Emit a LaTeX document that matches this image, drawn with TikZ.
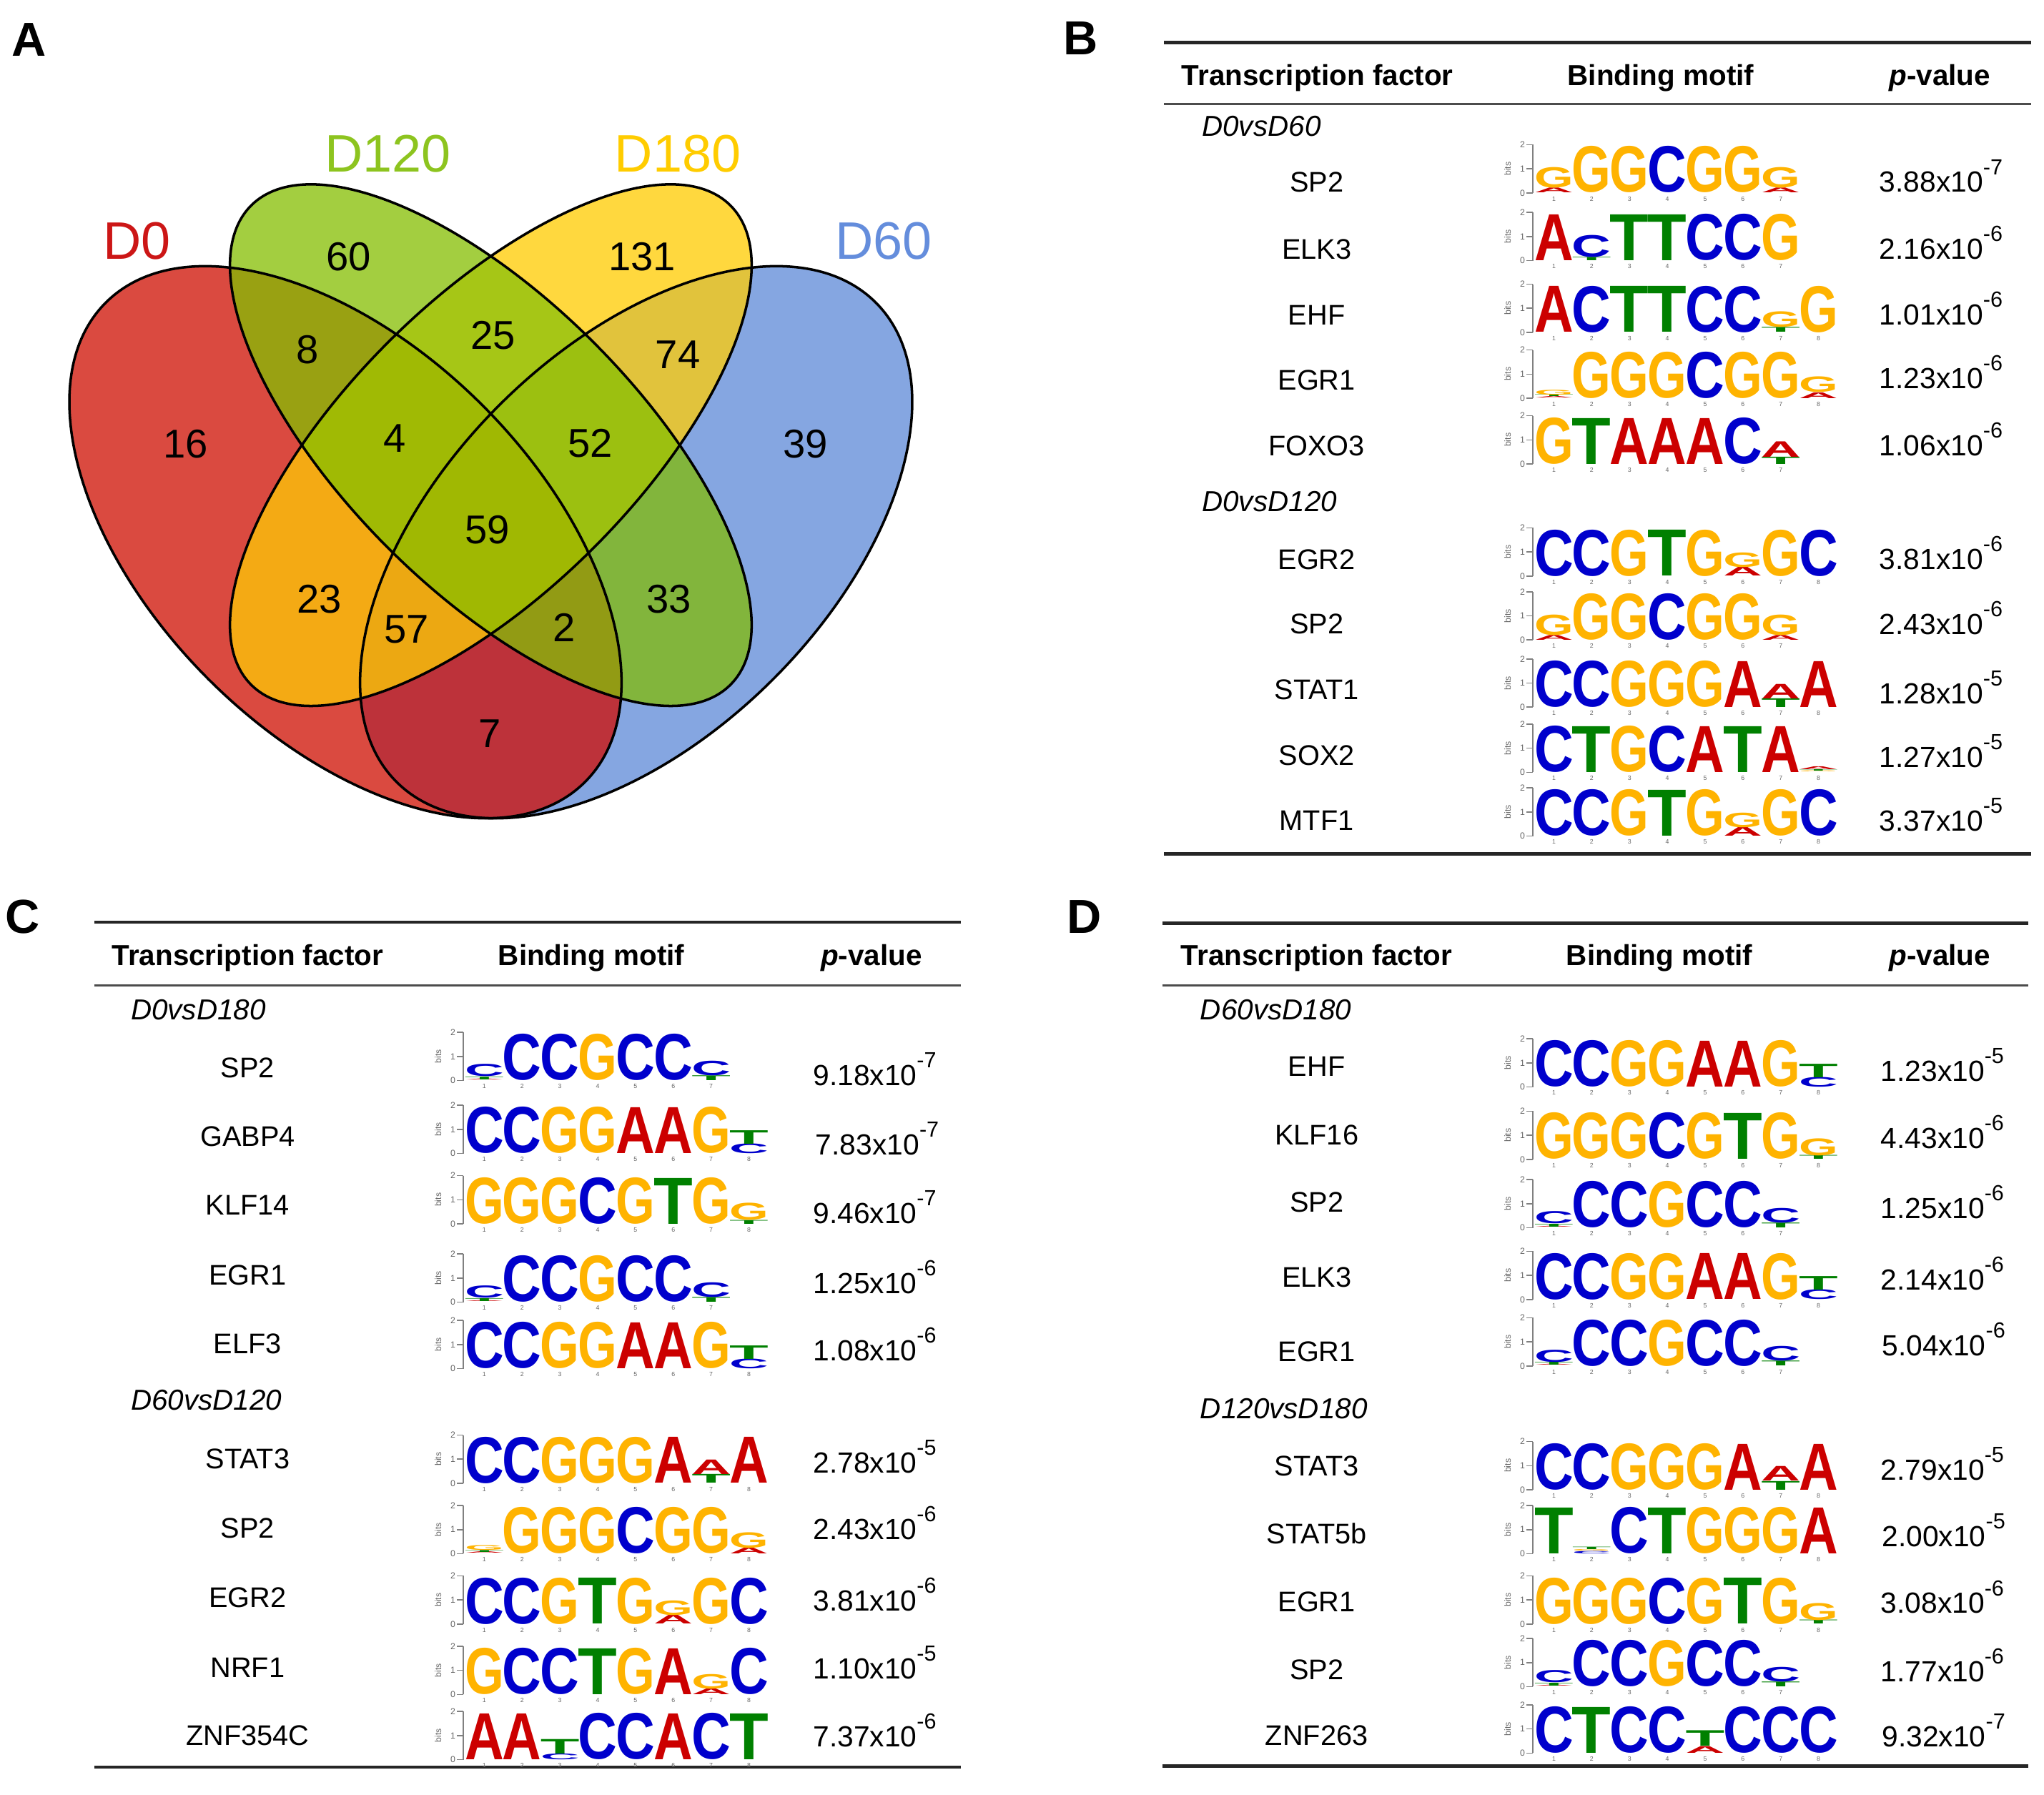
\documentclass[tikz,border=0pt]{standalone}
\usepackage{fontspec}
\setmainfont{Liberation Sans}
\usepackage{graphicx}
% logo letter colours
\definecolor{cA}{HTML}{CC0000}
\definecolor{cC}{HTML}{0000CC}
\definecolor{cG}{HTML}{FFB300}
\definecolor{cT}{HTML}{008000}
% venn region colours
\definecolor{vR}{RGB}{218,74,64}
\definecolor{vG}{RGB}{163,206,64}
\definecolor{vY}{RGB}{255,216,62}
\definecolor{vB}{RGB}{133,166,225}
\definecolor{vRG}{RGB}{153,161,18}
\definecolor{vGY}{RGB}{166,198,22}
\definecolor{vYB}{RGB}{225,195,60}
\definecolor{vRY}{RGB}{244,170,20}
\definecolor{vGB}{RGB}{130,181,60}
\definecolor{vRB}{RGB}{189,50,58}
\definecolor{vRGY}{RGB}{160,186,4}
\definecolor{vGYB}{RGB}{156,192,16}
\definecolor{vRYB}{RGB}{236,168,18}
\definecolor{vRGB}{RGB}{146,155,20}
\definecolor{vALL}{RGB}{160,184,2}
% set label colours
\definecolor{tR}{RGB}{204,22,22}
\definecolor{tG}{RGB}{141,196,31}
\definecolor{tY}{RGB}{255,204,0}
\definecolor{tB}{RGB}{100,141,220}

\newdimen\LW \LW=0.547cm
\newdimen\LH \LH=0.675cm
\newcounter{nn}

\newcommand\lgT[4]{\stepcounter{nn}\node[lt, name=lt\arabic{nn}] at ({29*#1+14.5},{-37*(#2)}) {\resizebox{\LW}{#3\LH}{\color{c#4}\bfseries #4}};}
\newcommand\lgF[2]{\lgT{#1}{0}{0.95}{#2}}
\newcommand\lgS[5]{\lgT{#1}{0}{#3}{#2}\lgT{#1}{#3}{#5}{#4}}
\newcommand\lgR[7]{\lgT{#1}{0}{#3}{#2}\lgT{#1}{#3}{#5}{#4}\lgT{#1}{#3+#5}{#7}{#6}}

\newcommand\motif[4]{\begin{scope}[shift={(#1,#2)}]
 \draw[axisl] (-1.5,0) -- (-1.5,-37);
 \foreach \t in {0,1,2}{\draw[axisl] (-1.5,{-18.5*\t}) -- (-6.5,{-18.5*\t});
   \stepcounter{nn}\node[tickl, anchor=east, name=tk\arabic{nn}] at (-6.5,{-18.5*\t}) {\t};}
 \stepcounter{nn}\node[tickl, rotate=90, name=bt\arabic{nn}] at (-21,-18.5) {bits};
 \foreach \k in {1,...,#3}{\stepcounter{nn}\node[posl, name=ps\arabic{nn}] at ({29*\k-14.5},4.5) {\k};}
 #4
\end{scope}}

\newcommand\MspA{\lgS{0}{A}{0.10}{G}{0.42}\lgF{1}{G}\lgF{2}{G}\lgF{3}{C}\lgF{4}{G}\lgF{5}{G}\lgS{6}{A}{0.10}{G}{0.42}}
\newcommand\MegrA{\lgR{0}{A}{0.03}{T}{0.04}{G}{0.10}\lgF{1}{G}\lgF{2}{G}\lgF{3}{G}\lgF{4}{C}\lgF{5}{G}\lgF{6}{G}\lgS{7}{A}{0.12}{G}{0.32}}
\newcommand\Megr{\lgF{0}{C}\lgF{1}{C}\lgF{2}{G}\lgF{3}{T}\lgF{4}{G}\lgS{5}{A}{0.18}{G}{0.30}\lgF{6}{G}\lgF{7}{C}}
\newcommand\Mstat{\lgF{0}{C}\lgF{1}{C}\lgF{2}{G}\lgF{3}{G}\lgF{4}{G}\lgF{5}{A}\lgS{6}{T}{0.18}{A}{0.30}\lgF{7}{A}}
\newcommand\Mccg{\lgR{0}{A}{0.02}{T}{0.06}{C}{0.25}\lgF{1}{C}\lgF{2}{C}\lgF{3}{G}\lgF{4}{C}\lgF{5}{C}\lgS{6}{T}{0.10}{C}{0.30}}
\newcommand\Mets{\lgF{0}{C}\lgF{1}{C}\lgF{2}{G}\lgF{3}{G}\lgF{4}{A}\lgF{5}{A}\lgF{6}{G}\lgS{7}{C}{0.20}{T}{0.28}}
\newcommand\Mklf{\lgF{0}{G}\lgF{1}{G}\lgF{2}{G}\lgF{3}{C}\lgF{4}{G}\lgF{5}{T}\lgF{6}{G}\lgS{7}{T}{0.08}{G}{0.35}}

\newcommand\pvalue[2]{#1x10\raisebox{7.1pt}{\fontsize{8.7}{9}\selectfont -#2}}

% venn ellipses as pgf paths (rotated axes given as vectors)
\newcommand\epath[1]{\ifcase#1\or
 \pgfpathellipse{\pgfpointxy{265}{416}}{\pgfpoint{3.3522cm}{-3.3522cm}}{\pgfpoint{1.9160cm}{1.9160cm}}\or
 \pgfpathellipse{\pgfpointxy{376.5}{341.5}}{\pgfpoint{3.3522cm}{-3.3522cm}}{\pgfpoint{1.4376cm}{1.4376cm}}\or
 \pgfpathellipse{\pgfpointxy{376.5}{341.5}}{\pgfpoint{3.3522cm}{3.3522cm}}{\pgfpoint{-1.4376cm}{1.4376cm}}\or
 \pgfpathellipse{\pgfpointxy{488}{416}}{\pgfpoint{3.3522cm}{3.3522cm}}{\pgfpoint{-1.9160cm}{1.9160cm}}\fi}
\newcommand\inout[2]{\ifnum#1=1 \epath{#2}\pgfusepath{clip}\else
 \pgfpathrectanglecorners{\pgfpointxy{-1000}{-1000}}{\pgfpointxy{2000}{2000}}\epath{#2}\pgfseteorule\pgfusepath{clip}\pgfsetnonzerorule\fi}
\newcommand\vreg[5]{\begin{scope}\inout{#1}{1}\inout{#2}{2}\inout{#3}{3}\inout{#4}{4}\fill[#5] (0,0) rectangle (760,700);\end{scope}}

\tikzset{
 panel/.style={font=\fontsize{19}{22}\selectfont\bfseries, anchor=base, yshift=-6.8pt, inner sep=0pt},
 setlab/.style={font=\fontsize{21}{25}\selectfont, anchor=base, yshift=-7.5pt, inner sep=0pt},
 cnt/.style={font=\fontsize{16}{19}\selectfont, anchor=base, yshift=-5.73pt, inner sep=0pt},
 hdr/.style={font=\fontsize{11.5}{14}\selectfont\bfseries, anchor=base, yshift=-4.1pt, inner sep=0pt},
 tf/.style={font=\fontsize{11.3}{14}\selectfont, anchor=base, yshift=-4.05pt, inner sep=0pt},
 grp/.style={font=\fontsize{11.5}{14}\selectfont\itshape, anchor=base west, yshift=-4.1pt, inner sep=0pt},
 pv/.style={font=\fontsize{11.6}{14}\selectfont, anchor=base, yshift=-4.15pt, inner sep=0pt},
 rulethick/.style={line width=1.3pt, black!85},
 rulethin/.style={line width=0.9pt, black!70},
 vline/.style={line width=1pt, black},
 axisl/.style={line width=0.45pt, black!50},
 tickl/.style={font=\fontsize{3.5}{4}\selectfont, text=black!60, inner sep=0.4pt},
 posl/.style={font=\fontsize{2.5}{3}\selectfont, text=black!60, inner sep=0pt},
 lt/.style={anchor=south, inner sep=0pt, outer sep=0pt},
}

\begin{document}
\begin{tikzpicture}[x=0.018234cm, y=-0.018234cm]
\useasboundingbox (0,0) rectangle (1568,1377);

% ================= Panel A: Venn =================
\node[panel] (lA) at (22,30) {A};
\vreg{1}{0}{0}{0}{vR}
\vreg{0}{1}{0}{0}{vG}
\vreg{0}{0}{1}{0}{vY}
\vreg{0}{0}{0}{1}{vB}
\vreg{1}{1}{0}{0}{vRG}
\vreg{0}{1}{1}{0}{vGY}
\vreg{0}{0}{1}{1}{vYB}
\vreg{1}{0}{1}{0}{vRY}
\vreg{0}{1}{0}{1}{vGB}
\vreg{1}{0}{0}{1}{vRB}
\vreg{1}{1}{1}{0}{vRGY}
\vreg{0}{1}{1}{1}{vGYB}
\vreg{1}{0}{1}{1}{vRYB}
\vreg{1}{1}{0}{1}{vRGB}
\vreg{1}{1}{1}{1}{vALL}
\draw[vline, rotate around={-45:(265,416)}] (265,416) ellipse [x radius=4.7408cm, y radius=2.7096cm];
\draw[vline, rotate around={-45:(376.5,341.5)}] (376.5,341.5) ellipse [x radius=4.7408cm, y radius=2.0331cm];
\draw[vline, rotate around={45:(376.5,341.5)}] (376.5,341.5) ellipse [x radius=4.7408cm, y radius=2.0331cm];
\draw[vline, rotate around={45:(488,416)}] (488,416) ellipse [x radius=4.7408cm, y radius=2.7096cm];

\node[setlab, text=tR] (sD0) at (105,184.6) {D0};
\node[setlab, text=tG] (sD120) at (297.6,117.5) {D120};
\node[setlab, text=tY] (sD180) at (520,117.5) {D180};
\node[setlab, text=tB] (sD60) at (677.7,184.6) {D60};

\node[cnt] (n16) at (142.5,340) {16};
\node[cnt] (n60) at (267.6,196.4) {60};
\node[cnt] (n131) at (492.6,196.4) {131};
\node[cnt] (n39) at (617.7,340) {39};
\node[cnt] (n8) at (235.8,268) {8};
\node[cnt] (n25) at (378.4,256.7) {25};
\node[cnt] (n74) at (520,271.5) {74};
\node[cnt] (n4) at (302.7,336) {4};
\node[cnt] (n52) at (453,339.5) {52};
\node[cnt] (n59) at (374,406) {59};
\node[cnt] (n23) at (245,459) {23};
\node[cnt] (n33) at (513,459) {33};
\node[cnt] (n57) at (312,482) {57};
\node[cnt] (n2) at (433,481) {2};
\node[cnt] (n7) at (376,562.3) {7};

% ================= Panel B =================
\node[panel] (lB) at (829,29) {B};
\draw[rulethick] (893,32.6) coordinate (bT1) -- (1558,32.6) coordinate (bT2);
\draw[rulethin] (893,79.6) coordinate (bM1) -- (1558,79.6) coordinate (bM2);
\draw[rulethick] (893,655) coordinate (bB1) -- (1558,655) coordinate (bB2);
\node[hdr] (bh1) at (1010.6,57.5) {Transcription factor};
\node[hdr] (bh2) at (1274,57.5) {Binding motif};
\node[hdr] (bh3) at (1488,57.5) {\textit{p}-value};
\node[grp] (bg1) at (921.7,96.7) {D0vsD60};
\node[grp] (bg2) at (921.7,384.3) {D0vsD120};

\node[tf] (bn1) at (1010,139.6) {SP2};
\node[tf] (bn2) at (1010,190.9) {ELK3};
\node[tf] (bn3) at (1010,241.2) {EHF};
\node[tf] (bn4) at (1010,291.3) {EGR1};
\node[tf] (bn5) at (1010,341.6) {FOXO3};
\node[tf] (bn6) at (1010,428.8) {EGR2};
\node[tf] (bn7) at (1010,478.6) {SP2};
\node[tf] (bn8) at (1010,528.6) {STAT1};
\node[tf] (bn9) at (1010,579.5) {SOX2};
\node[tf] (bn10) at (1010,629.4) {MTF1};

\node[pv] (bp1) at (1489,139.5) {\pvalue{3.88}{7}};
\node[pv] (bp2) at (1489,191) {\pvalue{2.16}{6}};
\node[pv] (bp3) at (1489,241) {\pvalue{1.01}{6}};
\node[pv] (bp4) at (1489,290) {\pvalue{1.23}{6}};
\node[pv] (bp5) at (1489,341.5) {\pvalue{1.06}{6}};
\node[pv] (bp6) at (1489,428.8) {\pvalue{3.81}{6}};
\node[pv] (bp7) at (1489,478.6) {\pvalue{2.43}{6}};
\node[pv] (bp8) at (1489,531.8) {\pvalue{1.28}{5}};
\node[pv] (bp9) at (1489,580.6) {\pvalue{1.27}{5}};
\node[pv] (bp10) at (1489,629.4) {\pvalue{3.37}{5}};

\motif{1177.5}{148}{7}{\MspA}
\motif{1177.5}{200}{7}{\lgF{0}{A}\lgS{1}{T}{0.07}{C}{0.45}\lgF{2}{T}\lgF{3}{T}\lgF{4}{C}\lgF{5}{C}\lgF{6}{G}}
\motif{1177.5}{255}{8}{\lgF{0}{A}\lgF{1}{C}\lgF{2}{T}\lgF{3}{T}\lgF{4}{C}\lgF{5}{C}\lgS{6}{T}{0.10}{G}{0.32}\lgF{7}{G}}
\motif{1177.5}{305.5}{8}{\MegrA}
\motif{1177.5}{356}{7}{\lgF{0}{G}\lgF{1}{T}\lgF{2}{A}\lgF{3}{A}\lgF{4}{A}\lgF{5}{C}\lgS{6}{T}{0.15}{A}{0.32}}
\motif{1177.5}{442}{8}{\Megr}
\motif{1177.5}{491}{7}{\MspA}
\motif{1177.5}{542.5}{8}{\Mstat}
\motif{1177.5}{592.5}{8}{\lgF{0}{C}\lgF{1}{T}\lgF{2}{G}\lgF{3}{C}\lgF{4}{A}\lgF{5}{T}\lgF{6}{A}\lgR{7}{G}{0.02}{T}{0.03}{A}{0.06}}
\motif{1177.5}{641.5}{8}{\Megr}

% ================= Panel C =================
\node[panel] (lC) at (17.5,702.6) {C};
\draw[rulethick] (72.5,707.5) coordinate (cT1) -- (737,707.5) coordinate (cT2);
\draw[rulethin] (72.5,755.8) coordinate (cM1) -- (737,755.8) coordinate (cM2);
\draw[rulethick] (72.5,1355.7) coordinate (cB1) -- (737,1355.7) coordinate (cB2);
\node[hdr] (ch1) at (190,732.6) {Transcription factor};
\node[hdr] (ch2) at (453.6,732.6) {Binding motif};
\node[hdr] (ch3) at (668.5,732.6) {\textit{p}-value};
\node[grp] (cg1) at (100,774.5) {D0vsD180};
\node[grp] (cg2) at (100,1074) {D60vsD120};

\node[tf] (cn1) at (190,819) {SP2};
\node[tf] (cn2) at (190,871.7) {GABP4};
\node[tf] (cn3) at (190,924.3) {KLF14};
\node[tf] (cn4) at (190,978) {EGR1};
\node[tf] (cn5) at (190,1030.8) {ELF3};
\node[tf] (cn6) at (190,1118.8) {STAT3};
\node[tf] (cn7) at (190,1172.2) {SP2};
\node[tf] (cn8) at (190,1225.5) {EGR2};
\node[tf] (cn9) at (190,1278.9) {NRF1};
\node[tf] (cn10) at (190,1331.2) {ZNF354C};

\node[pv] (cp1) at (671,825) {\pvalue{9.18}{7}};
\node[pv] (cp2) at (673,877.8) {\pvalue{7.83}{7}};
\node[pv] (cp3) at (671,930.4) {\pvalue{9.46}{7}};
\node[pv] (cp4) at (671,984.3) {\pvalue{1.25}{6}};
\node[pv] (cp5) at (671,1035.7) {\pvalue{1.08}{6}};
\node[pv] (cp6) at (671,1122) {\pvalue{2.78}{5}};
\node[pv] (cp7) at (671,1173.2) {\pvalue{2.43}{6}};
\node[pv] (cp8) at (671,1227.7) {\pvalue{3.81}{6}};
\node[pv] (cp9) at (671,1280) {\pvalue{1.10}{5}};
\node[pv] (cp10) at (671,1332.2) {\pvalue{7.37}{6}};

\motif{357}{829}{7}{\Mccg}
\motif{357}{885}{8}{\Mets}
\motif{357}{939}{8}{\Mklf}
\motif{357}{999}{7}{\Mccg}
\motif{357}{1050}{8}{\Mets}
\motif{357}{1138}{8}{\Mstat}
\motif{357}{1192}{8}{\MegrA}
\motif{357}{1246}{8}{\Megr}
\motif{357}{1300}{8}{\lgF{0}{G}\lgF{1}{C}\lgF{2}{C}\lgF{3}{T}\lgF{4}{G}\lgF{5}{A}\lgS{6}{A}{0.12}{G}{0.30}\lgF{7}{C}}
\motif{357}{1350}{8}{\lgF{0}{A}\lgF{1}{A}\lgS{2}{C}{0.12}{T}{0.30}\lgF{3}{C}\lgF{4}{C}\lgF{5}{A}\lgF{6}{C}\lgF{7}{T}}

% ================= Panel D =================
\node[panel] (lD) at (831.7,702.6) {D};
\draw[rulethick] (892,708.4) coordinate (dT1) -- (1556,708.4) coordinate (dT2);
\draw[rulethin] (892,755.8) coordinate (dM1) -- (1556,755.8) coordinate (dM2);
\draw[rulethick] (892,1355) coordinate (dB1) -- (1556,1355) coordinate (dB2);
\node[hdr] (dh1) at (1010,733) {Transcription factor};
\node[hdr] (dh2) at (1273,733) {Binding motif};
\node[hdr] (dh3) at (1488,733) {\textit{p}-value};
\node[grp] (dg1) at (920.4,774.5) {D60vsD180};
\node[grp] (dg2) at (920.4,1080.5) {D120vsD180};

\node[tf] (dn1) at (1010,817.8) {EHF};
\node[tf] (dn2) at (1010,870.4) {KLF16};
\node[tf] (dn3) at (1010,921.8) {SP2};
\node[tf] (dn4) at (1010,979.4) {ELK3};
\node[tf] (dn5) at (1010,1036.9) {EGR1};
\node[tf] (dn6) at (1010,1124.2) {STAT3};
\node[tf] (dn7) at (1010,1176.4) {STAT5b};
\node[tf] (dn8) at (1010,1228.7) {EGR1};
\node[tf] (dn9) at (1010,1281) {SP2};
\node[tf] (dn10) at (1010,1331.2) {ZNF263};

\node[pv] (dp1) at (1490,821.5) {\pvalue{1.23}{5}};
\node[pv] (dp2) at (1490,872.9) {\pvalue{4.43}{6}};
\node[pv] (dp3) at (1490,926.7) {\pvalue{1.25}{6}};
\node[pv] (dp4) at (1490,981.8) {\pvalue{2.14}{6}};
\node[pv] (dp5) at (1491,1032) {\pvalue{5.04}{6}};
\node[pv] (dp6) at (1490,1127.4) {\pvalue{2.79}{5}};
\node[pv] (dp7) at (1491,1178.6) {\pvalue{2.00}{5}};
\node[pv] (dp8) at (1490,1229.8) {\pvalue{3.08}{6}};
\node[pv] (dp9) at (1490,1282) {\pvalue{1.77}{6}};
\node[pv] (dp10) at (1491,1332.2) {\pvalue{9.32}{7}};

\motif{1177.5}{834}{8}{\Mets}
\motif{1177.5}{889.5}{8}{\Mklf}
\motif{1177.5}{942}{7}{\Mccg}
\motif{1177.5}{997}{8}{\Mets}
\motif{1177.5}{1048}{7}{\Mccg}
\motif{1177.5}{1143}{8}{\Mstat}
\motif{1177.5}{1192}{8}{\lgF{0}{T}\lgR{1}{C}{0.05}{G}{0.03}{T}{0.05}\lgF{2}{C}\lgF{3}{T}\lgF{4}{G}\lgF{5}{G}\lgF{6}{G}\lgF{7}{A}}
\motif{1177.5}{1246}{8}{\Mklf}
\motif{1177.5}{1294}{7}{\Mccg}
\motif{1177.5}{1345}{8}{\lgF{0}{C}\lgF{1}{T}\lgF{2}{C}\lgF{3}{C}\lgS{4}{A}{0.14}{T}{0.32}\lgF{5}{C}\lgF{6}{C}\lgF{7}{C}}

\end{tikzpicture}
\end{document}
